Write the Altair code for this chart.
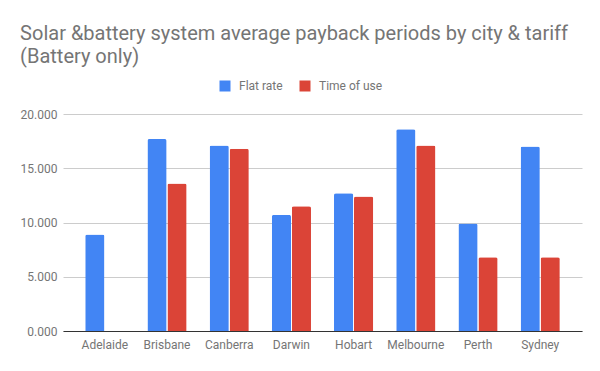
import altair as alt
import pandas as pd

cities = ["Adelaide", "Brisbane", "Canberra", "Darwin", "Hobart", "Melbourne", "Perth", "Sydney"]
flat_rate = [8.9, 17.7, 17.1, 10.7, 12.7, 18.6, 9.9, 17.0]
time_of_use = [None, 13.6, 16.8, 11.5, 12.4, 17.1, 6.8, 6.8]
series = ["Flat rate", "Time of use"]
colors = ["#4285F4", "#DB4437"]

rows = []
for c, f, t in zip(cities, flat_rate, time_of_use):
    rows.append({"city": c, "tariff": series[0], "value": f})
    rows.append({"city": c, "tariff": series[1], "value": t})
df = pd.DataFrame(rows)

font = "Roboto"
gray = "#757575"

chart = alt.Chart(df).mark_bar(cornerRadiusTopLeft=2, cornerRadiusTopRight=2).encode(
    x=alt.X("city:N", sort=cities, title=None,
            scale=alt.Scale(paddingInner=0.37, paddingOuter=0.357),
            axis=alt.Axis(labelAngle=0, ticks=False, domainColor="#333333", labelColor=gray,
                          labelFont=font, labelFontSize=12, labelPadding=8, grid=False)),
    xOffset=alt.XOffset("tariff:N", sort=series, scale=alt.Scale(paddingInner=0.04)),
    y=alt.Y("value:Q", title=None,
            scale=alt.Scale(domain=[0, 20]),
            axis=alt.Axis(values=[0, 5, 10, 15, 20], format=".3f", ticks=False, domain=False,
                          labelColor=gray, labelFont=font, labelFontSize=12, labelPadding=6,
                          gridColor="#cccccc")),
    color=alt.Color("tariff:N", sort=series, scale=alt.Scale(domain=series, range=colors),
                    legend=alt.Legend(title=None, orient="none", legendX=156, legendY=-34,
                                      direction="horizontal", symbolType="square", symbolSize=121,
                                      symbolStrokeWidth=0, labelFont=font, labelFontSize=12,
                                      labelColor=gray, columnPadding=16, labelOffset=8)),
).properties(
    width=519, height=217,
    padding={"left": 55, "top": 106, "right": 10, "bottom": 30},
    autosize=alt.AutoSizeParams(type="none"),
    title=alt.TitleParams(
        ["Solar &battery system average payback periods by city & tariff", "(Battery only)"],
        anchor="start", font=font, fontSize=20, fontWeight="normal", color=gray,
        dx=0, offset=13, lineHeight=23),
).configure_view(stroke=None)

chart.save("out.html", embed_options={"renderer": "svg", "actions": False})
